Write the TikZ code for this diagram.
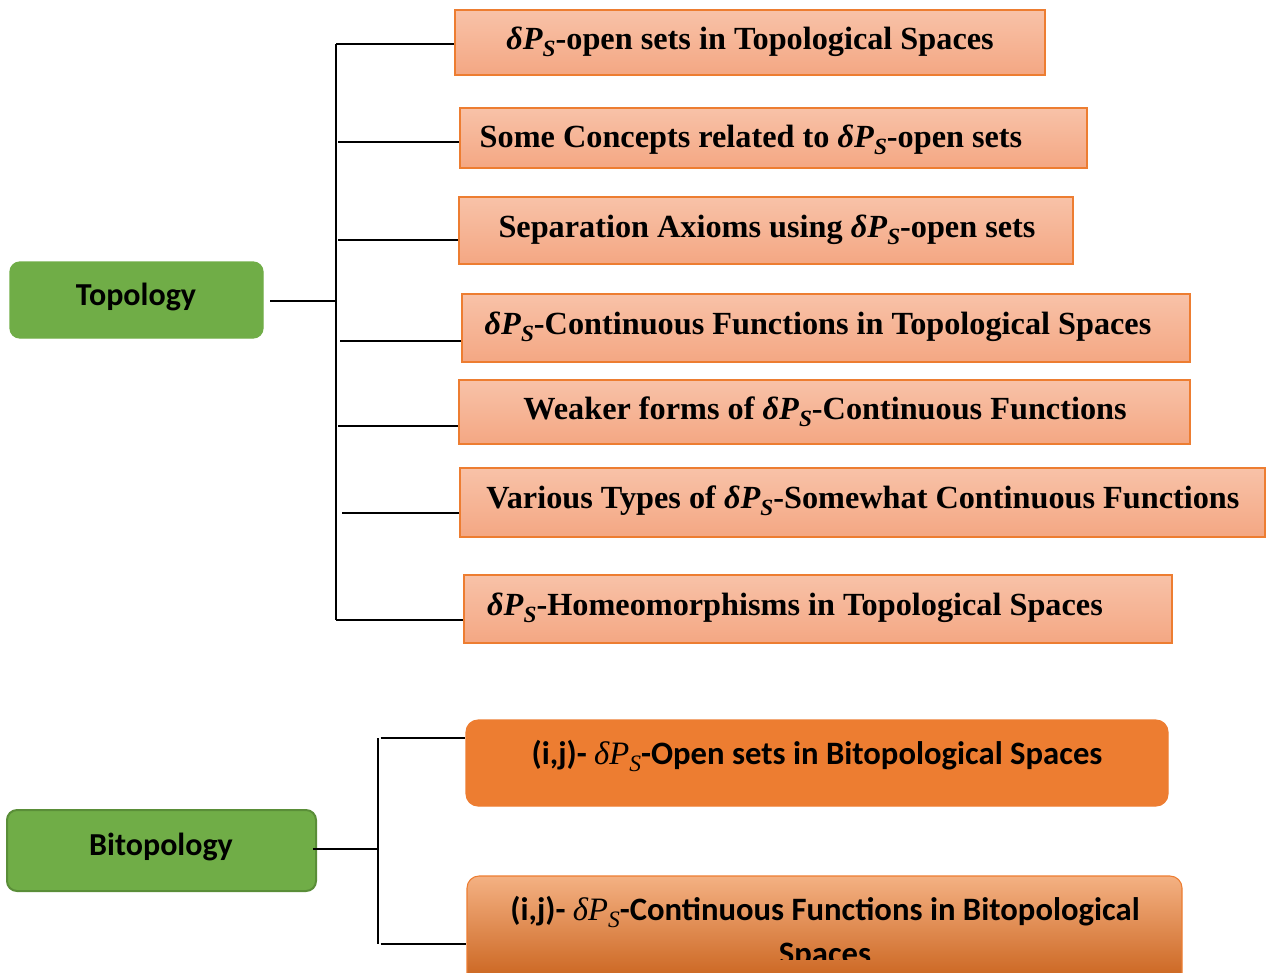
\documentclass[tikz,border=0pt]{standalone}
\usepackage{fontspec}
\usepackage{graphicx}
\setmainfont{Liberation Serif}
\newfontfamily\calib{Carlito}
\usetikzlibrary{fit}

% delta P sub S, in the weight of the surrounding text
\newcommand{\dPS}{\textit{δP}\raisebox{-0.22em}{\scalebox{0.72}{\textit{S}}}}
% delta P sub S, light serif italic (inside the sans labels)
\newcommand{\dPSl}{{\rmfamily\mdseries\itshape δP\raisebox{-0.22em}{\scalebox{0.72}{S}}}}

\definecolor{leaf}{HTML}{70AD47}
\definecolor{leafdark}{HTML}{5A8E38}
\definecolor{peachtop}{HTML}{F8C2A8}
\definecolor{peachbot}{HTML}{F4A783}
\definecolor{orangeline}{HTML}{ED7D31}
\definecolor{orangefill}{HTML}{ED7D31}
\definecolor{orangelight}{HTML}{F4B183}
\definecolor{orangedark}{HTML}{C55A11}

\tikzset{
  wire/.style={draw=black, line width=0.8pt},
  peachbox/.style={rectangle, inner sep=0pt, draw=orangeline, line width=1pt,
    top color=peachtop, bottom color=peachbot},
  peachtext/.style={inner sep=0pt, font=\fontsize{24.2}{28}\selectfont\bfseries},
  leafbox/.style={rectangle, rounded corners=7.5pt, inner sep=0pt, fill=leaf, draw=leaf, line width=1pt},
  leafboxdark/.style={leafbox, draw=leafdark, line width=1.5pt},
  leaftext/.style={inner sep=0pt, font=\calib\fontsize{24}{28}\selectfont\bfseries},
  orangebox/.style={rectangle, rounded corners=9pt, inner sep=0pt, fill=orangefill, draw=orangefill, line width=0.8pt},
  orangeshade/.style={rectangle, rounded corners=9pt, inner sep=0pt, draw=orangefill, line width=0.8pt,
    top color=orangelight, middle color=orangefill, bottom color=orangedark},
  orangetext/.style={inner sep=0pt, font=\calib\fontsize{24.5}{28}\selectfont\bfseries},
}

\begin{document}
\begin{tikzpicture}[x=0.75pt,y=-0.75pt]
\useasboundingbox (0,0) rectangle (1269,972);
\clip (0,0) rectangle (1269,972);

% ---------- Topology branch ----------
\node[leafbox, fit={(10,262)(263,338)}] (topo) {};
\node[leaftext] (topot) at (136,297) {Topology};

\node[peachbox, fit={(455,10)(1045,75)}]   (b1) {};
\node[peachbox, fit={(460,108)(1087,168)}] (b2) {};
\node[peachbox, fit={(459,197)(1073,264)}] (b3) {};
\node[peachbox, fit={(462,294)(1190,362)}] (b4) {};
\node[peachbox, fit={(459,380)(1190,444)}] (b5) {};
\node[peachbox, fit={(460,468)(1265,537)}] (b6) {};
\node[peachbox, fit={(464,575)(1172,643)}] (b7) {};

\node[peachtext] (t1) at (750,42)  {\dPS-open sets in Topological Spaces};
\node[peachtext] (t2) at (751,140) {Some Concepts related to \dPS-open sets};
\node[peachtext] (t3) at (767,230) {Separation Axioms using \dPS-open sets};
\node[peachtext] (t4) at (818,327) {\dPS-Continuous Functions in Topological Spaces};
\node[peachtext] (t5) at (825,412) {Weaker forms of \dPS-Continuous Functions};
\node[peachtext] (t6) at (863,501) {Various Types of \dPS-Somewhat Continuous Functions};
\node[peachtext] (t7) at (795,608) {\dPS-Homeomorphisms in Topological Spaces};

\coordinate (ttop) at (336,44);
\coordinate (tbot) at (336,620);
\coordinate (tmid) at (336,301);
\coordinate (j1) at (336,44);
\coordinate (j2) at (338,142);
\coordinate (j3) at (338,240);
\coordinate (j4) at (340,341);
\coordinate (j5) at (338,426);
\coordinate (j6) at (342,513);
\coordinate (j7) at (336,620);

\draw[wire] (ttop) -- (tbot);
\draw[wire] ([xshift=5pt]topo.east |- tmid) -- (tmid);
\foreach \j/\b in {j1/b1,j2/b2,j3/b3,j4/b4,j5/b5,j6/b6,j7/b7}
  \draw[wire] (\j) -- (\j -| \b.west);

% ---------- Bitopology branch ----------
\node[leafboxdark, fit={(7,810)(316,891)}] (bito) {};
\node[leaftext] (bitot) at (161,847) {Bitopology};

\node[orangebox, fit={(466,720)(1168,806)}] (oA) {};
\node[orangeshade, fit={(467,876)(1182,995)}] (oB) {};

\node[orangetext] (tA) at (817,756) {(i,j)- \dPSl-Open sets in Bitopological Spaces};
\node[orangetext] (tB) at (825,912) {(i,j)- \dPSl-Continuous Functions in Bitopological};
\begin{scope}
  \clip (0,0) rectangle (1269,959);
  \node[orangetext] (tB2) at (825,956) {Spaces};
\end{scope}

\coordinate (btop) at (378,738);
\coordinate (bbot) at (378,944);
\coordinate (bmid) at (378,849);

\draw[wire] (btop) -- (bbot);
\draw[wire] ([xshift=-3pt]bito.east |- bmid) -- (bmid);
\draw[wire] ([xshift=2pt]btop) -- (btop -| oA.west);
\draw[wire] ([xshift=2pt]bbot) -- (bbot -| oB.west);
\end{tikzpicture}
\end{document}
